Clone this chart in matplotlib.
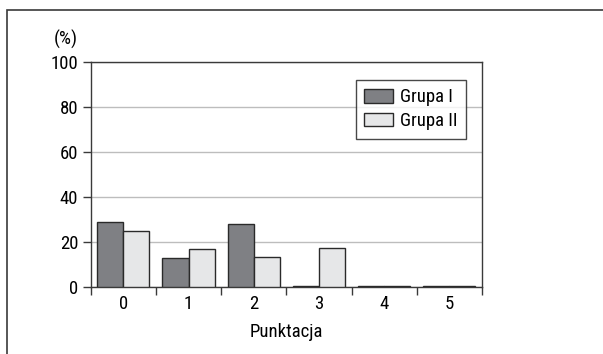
import matplotlib.pyplot as plt
import numpy as np
from matplotlib import font_manager
from matplotlib.patches import Rectangle

# wąska czcionka, jeśli jest
names = {f.name for f in font_manager.fontManager.ttflist}
family = 'DejaVu Sans'
for cand in ['Liberation Sans Narrow', 'Roboto Condensed', 'Roboto', 'Liberation Sans']:
    if cand in names:
        family = cand
        break
plt.rcParams['font.family'] = [family, 'DejaVu Sans']

# dane
kategorie = ['0', '1', '2', '3', '4', '5']
grupa_1 = [29, 13, 28, 0.5, 0.5, 0.5]
grupa_2 = [25, 17, 13.3, 17.3, 0.5, 0.5]

fs = 13.5

fig = plt.figure(figsize=(6.03, 3.54), dpi=100)
ax = fig.add_axes([90.7 / 603, 1 - 287 / 354, 391.3 / 603, 225 / 354])

# ramka wokół rysunku
fig.patches.append(Rectangle((7 / 603, -0.1), 1.1, 1 - 10 / 354 + 0.1, transform=fig.transFigure,
                             fill=False, edgecolor='#3a3a3a', linewidth=1.2))

x = np.arange(len(kategorie))
w = 0.4
ax.bar(x - w / 2, grupa_1, w, color='#7f8084', edgecolor='#2a2a2a', linewidth=1, label='Grupa I', zorder=3)
ax.bar(x + w / 2, grupa_2, w, color='#e6e7e8', edgecolor='#2a2a2a', linewidth=1, label='Grupa II', zorder=3)

ax.set_xlim(-0.5, 5.5)
ax.set_ylim(0, 100)
ax.set_yticks([0, 20, 40, 60, 80, 100])
ax.yaxis.grid(True, color='#bdbdbd', linewidth=1)
ax.set_axisbelow(True)

# podziałki na granicach kategorii, etykiety w środku
ax.set_xticks(np.arange(-0.5, 6, 1))
ax.set_xticklabels([])
ax.set_xticks(x, minor=True)
ax.set_xticklabels(kategorie, minor=True)
ax.tick_params(axis='x', which='major', length=6, width=1, color='#3a3a3a')
ax.tick_params(axis='x', which='minor', length=0, pad=6, labelsize=fs)
ax.tick_params(axis='y', length=6, width=1, color='#3a3a3a', labelsize=fs, pad=3)

for s in ax.spines.values():
    s.set_color('#3a3a3a')
    s.set_linewidth(1)

ax.set_xlabel('Punktacja', fontsize=fs, labelpad=7)
fig.text(66 / 603, 1 - 39 / 354, '(%)', fontsize=fs, ha='center', va='center')

leg = ax.legend(loc='upper right', bbox_to_anchor=(466 / 603, 1 - 80 / 354), bbox_transform=fig.transFigure,
                fontsize=fs, frameon=True, fancybox=False, edgecolor='#1a1a1a',
                handlelength=1.5, handleheight=0.75, handletextpad=0.4, borderpad=0.45,
                labelspacing=0.3, borderaxespad=0)
leg.get_frame().set_linewidth(1)

fig.savefig('out.png', dpi=100)
